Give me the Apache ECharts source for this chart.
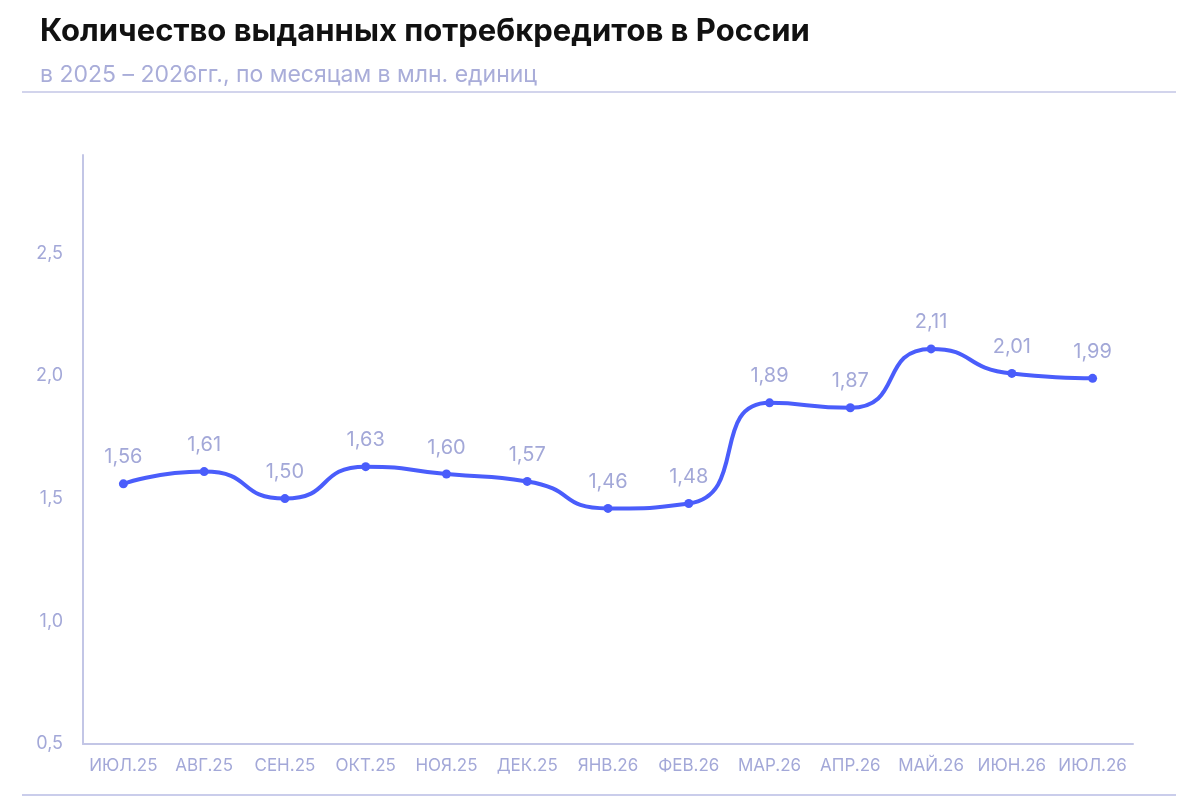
<!DOCTYPE html>
<html>
<head>
<meta charset="utf-8">
<script src="https://cdn.jsdelivr.net/npm/echarts@6/dist/echarts.min.js"></script>
<style>
  html, body { margin: 0; padding: 0; background: #fff; }
  #chart { width: 1200px; height: 800px; }
</style>
</head>
<body>
<div id="chart"></div>
<script>
// данные
var months = ['ИЮЛ.25', 'АВГ.25', 'СЕН.25', 'ОКТ.25', 'НОЯ.25', 'ДЕК.25', 'ЯНВ.26',
    'ФЕВ.26', 'МАР.26', 'АПР.26', 'МАЙ.26', 'ИЮН.26', 'ИЮЛ.26'];
var loans = [1.56, 1.61, 1.50, 1.63, 1.60, 1.57, 1.46, 1.48, 1.89, 1.87, 2.11, 2.01, 1.99];

var labelColor = '#A3A8D8';
var axisColor = '#C3C6E6';

function comma(v, d) {
    return v.toFixed(d).replace('.', ',');
}

var myChart = echarts.init(document.getElementById('chart'));

var option = {
    animation: false,
    backgroundColor: '#fff',
    title: [{
        text: 'Количество выданных потребкредитов в России',
        left: 35,
        top: 11,
        textStyle: { fontFamily: 'Inter', fontSize: 31, fontWeight: 'bold', color: '#111' }
    }, {
        text: 'в 2025 – 2026гг., по месяцам в млн. единиц',
        left: 35,
        top: 59,
        textStyle: { fontFamily: 'Inter', fontSize: 23, fontWeight: 'normal', color: '#A9ADD9' }
    }],
    graphic: [{
        type: 'line',
        shape: { x1: 22, y1: 92, x2: 1176, y2: 92 },
        style: { stroke: '#C3C6E6', lineWidth: 1.5 }
    }, {
        type: 'line',
        shape: { x1: 22, y1: 795, x2: 1176, y2: 795 },
        style: { stroke: '#B8BCE4', lineWidth: 1.5 }
    }],
    grid: { left: 83, right: 67, top: 155, bottom: 56 },
    xAxis: {
        type: 'category',
        data: months,
        boundaryGap: true,
        axisLine: { lineStyle: { color: axisColor, width: 2 } },
        axisTick: { show: false },
        axisLabel: {
            color: labelColor,
            fontFamily: 'Inter',
            fontSize: 17,
            margin: 13,
            interval: 0
        }
    },
    yAxis: {
        type: 'value',
        min: 0.5,
        max: 2.9,
        interval: 0.5,
        splitLine: { show: false },
        axisLine: { show: true, lineStyle: { color: axisColor, width: 2 } },
        axisTick: { show: false },
        axisLabel: {
            color: labelColor,
            fontFamily: 'Inter',
            fontSize: 18,
            margin: 20,
            showMaxLabel: false,
            formatter: function (v) { return comma(v, 1); }
        }
    },
    series: [{
        type: 'line',
        data: loans,
        smooth: 0.6,
        symbol: 'circle',
        symbolSize: 9,
        lineStyle: { color: '#4A5DFB', width: 4 },
        itemStyle: { color: '#4A5DFB' },
        label: {
            show: true,
            position: 'top',
            distance: 12,
            color: labelColor,
            fontFamily: 'Inter',
            fontSize: 20,
            formatter: function (p) { return comma(p.value, 2); }
        }
    }]
};
myChart.setOption(option);
</script>
</body>
</html>
